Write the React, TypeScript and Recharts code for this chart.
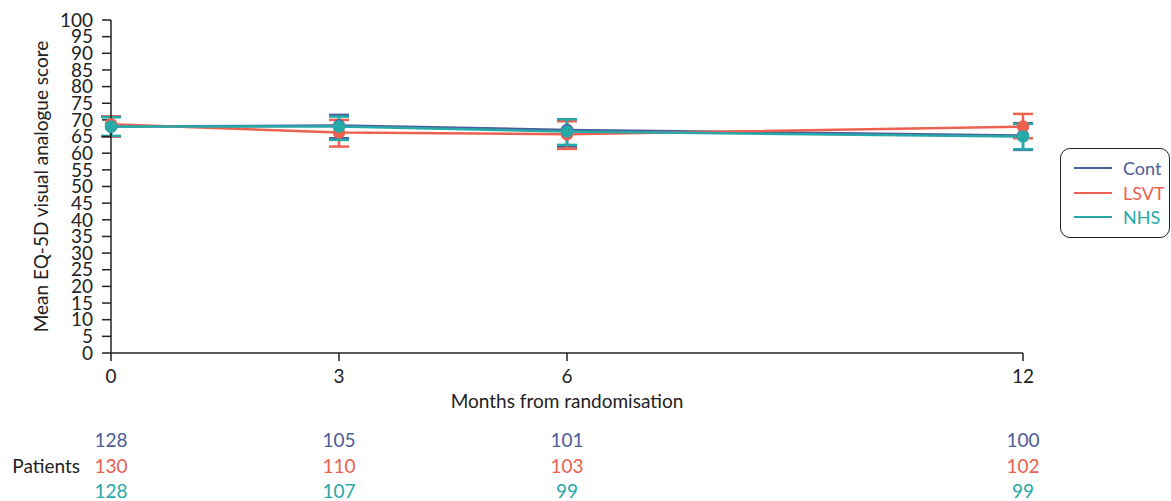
import React from 'react';
import {
  ComposedChart,
  Line,
  XAxis,
  YAxis,
  ErrorBar
} from 'recharts';

const months = [0, 3, 6, 12];

const contMean = [68, 68.3, 67, 65.3];
const contLow = [65, 64.5, 62, 61];
const contHigh = [71, 71.5, 70.2, 69];

const lsvtMean = [68.7, 66.2, 65.7, 68];
const lsvtLow = [65, 62, 61.3, 64.5];
const lsvtHigh = [71, 70, 69.6, 71.8];

const nhsMean = [68, 68, 66.5, 65];
const nhsLow = [65.2, 64, 62.5, 61.2];
const nhsHigh = [70.8, 71, 70.2, 68.8];

const contPatients = [128, 105, 101, 100];
const lsvtPatients = [130, 110, 103, 102];
const nhsPatients = [128, 107, 99, 99];

const yTicks = [0, 5, 10, 15, 20, 25, 30, 35, 40, 45, 50, 55, 60, 65, 70, 75, 80, 85, 90, 95, 100];

const COLORS = { cont: '#4b5c9a', lsvt: '#ec6150', nhs: '#27a9a9' };
const FONT = 'Lato, "Noto Sans", sans-serif';
const FS = 19;

const data = months.map((m, i) => ({
  month: m,
  cont: contMean[i],
  contErr: [contMean[i] - contLow[i], contHigh[i] - contMean[i]],
  lsvt: lsvtMean[i],
  lsvtErr: [lsvtMean[i] - lsvtLow[i], lsvtHigh[i] - lsvtMean[i]],
  nhs: nhsMean[i],
  nhsErr: [nhsMean[i] - nhsLow[i], nhsHigh[i] - nhsMean[i]]
}));

// x tick: month label plus the patient counts underneath
const MonthTick = (props: any) => {
  const { x, y, payload, index } = props;
  const i = months.indexOf(payload.value);
  return (
    <g fontFamily={FONT} fontSize={FS}>
      <text x={x} y={y + 20} textAnchor="middle" fill="#222">{payload.value}</text>
      <text x={x} y={y + 84} textAnchor="middle" fill={COLORS.cont}>{contPatients[i]}</text>
      <text x={x} y={y + 110} textAnchor="middle" fill={COLORS.lsvt}>{lsvtPatients[i]}</text>
      <text x={x} y={y + 135} textAnchor="middle" fill={COLORS.nhs}>{nhsPatients[i]}</text>
      {index === 0 && (
        <text x={x - 31} y={y + 110} textAnchor="end" fill="#222">Patients</text>
      )}
    </g>
  );
};

const LegendBox = () => (
  <div
    style={{
      position: 'absolute',
      left: 1060,
      top: 148,
      border: '1.5px solid #222',
      borderRadius: 10,
      width: 110,
      height: 90,
      boxSizing: 'border-box',
      paddingTop: 7,
      fontFamily: FONT,
      fontSize: 18
    }}
  >
    {[
      ['Cont', COLORS.cont],
      ['LSVT', COLORS.lsvt],
      ['NHS', COLORS.nhs]
    ].map(([name, c]) => (
      <div key={name} style={{ display: 'flex', alignItems: 'center', height: 24.5 }}>
        <span style={{ display: 'inline-block', width: 38, height: 2, background: c, marginLeft: 13, marginRight: 11 }} />
        <span style={{ color: c }}>{name}</span>
      </div>
    ))}
  </div>
);

export default function App() {
  return (
    <div style={{ position: 'absolute', left: 0, top: 0, width: 1171, height: 501 }}>
      <ComposedChart
        width={1171}
        height={501}
        data={data}
        margin={{ top: 20, right: 148, bottom: 108, left: 30 }}
      >
        <XAxis
          dataKey="month"
          type="number"
          domain={[0, 12]}
          ticks={months}
          interval={0}
          tickSize={8}
          height={40}
          stroke="#222"
          strokeWidth={1.5}
          tick={<MonthTick />}
          label={{
            value: 'Months from randomisation',
            position: 'insideBottom',
            offset: -15,
            fill: '#222',
            fontSize: FS,
            fontFamily: FONT
          }}
        />
        <YAxis
          type="number"
          domain={[0, 100]}
          ticks={yTicks}
          interval={0}
          width={81}
          tickSize={9}
          tickMargin={9}
          stroke="#222"
          strokeWidth={1.5}
          tick={{ fill: '#222', fontSize: FS, fontFamily: FONT }}
          label={{
            value: 'Mean EQ-5D visual analogue score',
            angle: -90,
            position: 'insideLeft',
            offset: 11,
            fill: '#222',
            fontSize: FS,
            fontFamily: FONT,
            style: { textAnchor: 'middle' }
          }}
        />
        <Line
          type="linear"
          dataKey="cont"
          stroke={COLORS.cont}
          strokeWidth={2.5}
          dot={{ r: 5, fill: COLORS.cont, stroke: COLORS.cont }}
          isAnimationActive={false}
        >
          <ErrorBar dataKey="contErr" direction="y" width={10} stroke={COLORS.cont} strokeWidth={2.5} />
        </Line>
        <Line
          type="linear"
          dataKey="lsvt"
          stroke={COLORS.lsvt}
          strokeWidth={2.5}
          dot={{ r: 5, fill: COLORS.lsvt, stroke: COLORS.lsvt }}
          isAnimationActive={false}
        >
          <ErrorBar dataKey="lsvtErr" direction="y" width={10} stroke={COLORS.lsvt} strokeWidth={2.5} />
        </Line>
        <Line
          type="linear"
          dataKey="nhs"
          stroke={COLORS.nhs}
          strokeWidth={2.5}
          dot={{ r: 5, fill: COLORS.nhs, stroke: COLORS.nhs }}
          isAnimationActive={false}
        >
          <ErrorBar dataKey="nhsErr" direction="y" width={10} stroke={COLORS.nhs} strokeWidth={2.5} />
        </Line>
      </ComposedChart>
      <LegendBox />
    </div>
  );
}
